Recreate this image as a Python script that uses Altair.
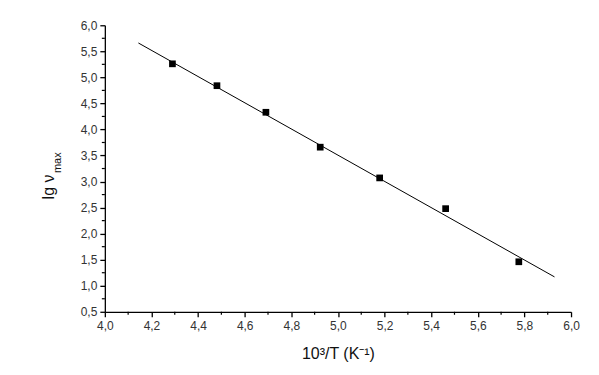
import altair as alt
import pandas as pd

# measured points
inv_T = [4.29, 4.481, 4.691, 4.924, 5.179, 5.462, 5.776]
lg_nu = [5.26, 4.84, 4.33, 3.66, 3.07, 2.48, 1.46]
# linear fit endpoints
fit_x = [4.144, 5.929]
fit_y = [5.66, 1.17]
# axis ticks
x_major = [4.0, 4.2, 4.4, 4.6, 4.8, 5.0, 5.2, 5.4, 5.6, 5.8, 6.0]
x_minor = [4.1, 4.3, 4.5, 4.7, 4.9, 5.1, 5.3, 5.5, 5.7, 5.9]
y_major = [0.5, 1.0, 1.5, 2.0, 2.5, 3.0, 3.5, 4.0, 4.5, 5.0, 5.5, 6.0]
y_minor = [0.75, 1.25, 1.75, 2.25, 2.75, 3.25, 3.75, 4.25, 4.75, 5.25, 5.75]

W, H = 467, 287
FONT = "Liberation Sans"
lab = "replace(format(datum.value, '.1f'), '.', ',')"

xs = alt.Scale(domain=[4.0, 6.0], nice=False)
ys = alt.Scale(domain=[0.5, 6.0], nice=False)

xaxis = alt.Axis(values=x_major, labelExpr=lab, title="10³/T (K⁻¹)", grid=False,
                 domainColor="black", domainWidth=1.3, tickColor="black", tickSize=5,
                 tickWidth=1.3, labelFont=FONT, labelFontSize=12, labelColor="#333",
                 labelPadding=4, labelOverlap=False, labelFlush=False,
                 titleFont=FONT, titleFontSize=16, titleFontWeight="normal",
                 titleColor="#111", titlePadding=14)
yaxis = alt.Axis(values=y_major, labelExpr=lab, title=None, grid=False,
                 domainColor="black", domainWidth=1.3, tickColor="black", tickSize=5,
                 tickWidth=1.3, labelFont=FONT, labelFontSize=12, labelColor="#333",
                 labelPadding=3, labelOverlap=False, labelFlush=False, labelBound=False)

pts_df = pd.DataFrame({"x": inv_T, "y": lg_nu})
fit_df = pd.DataFrame({"x": fit_x, "y": fit_y})

line = alt.Chart(fit_df).mark_line(color="black", strokeWidth=1).encode(
    x=alt.X("x:Q", scale=xs, axis=xaxis),
    y=alt.Y("y:Q", scale=ys, axis=yaxis),
)
pts = alt.Chart(pts_df).mark_point(shape="square", filled=True, color="black",
                                   size=45, opacity=1).encode(
    x=alt.X("x:Q", scale=xs, axis=xaxis),
    y=alt.Y("y:Q", scale=ys, axis=yaxis),
)

xminor = alt.Chart(pd.DataFrame({"x": x_minor})).mark_rule(color="black", strokeWidth=1.2).encode(
    x=alt.X("x:Q", scale=xs, axis=xaxis), y=alt.value(H), y2=alt.value(H + 3))
yminor = alt.Chart(pd.DataFrame({"y": y_minor})).mark_rule(color="black", strokeWidth=1.2).encode(
    y=alt.Y("y:Q", scale=ys, axis=yaxis), x=alt.value(0), x2=alt.value(-3))

ytitle = alt.Chart(pd.DataFrame({"t": ["lg ν"]})).mark_text(
    angle=270, align="center", baseline="alphabetic", font=FONT, fontSize=16, color="#111"
).encode(text="t:N", x=alt.value(-51), y=alt.value(162))
ysub = alt.Chart(pd.DataFrame({"t": ["max"]})).mark_text(
    angle=270, align="left", baseline="alphabetic", font=FONT, fontSize=11, color="#111"
).encode(text="t:N", x=alt.value(-44), y=alt.value(148))

chart = alt.layer(line, pts, xminor, yminor, ytitle, ysub).properties(
    width=W, height=H,
    background="white",
    autosize=alt.AutoSizeParams(type="none"),
    padding={"left": 97, "top": 17, "right": 20, "bottom": 55},
).configure_view(stroke=None)

chart.save("out.html", embed_options={"renderer": "svg", "actions": False})
